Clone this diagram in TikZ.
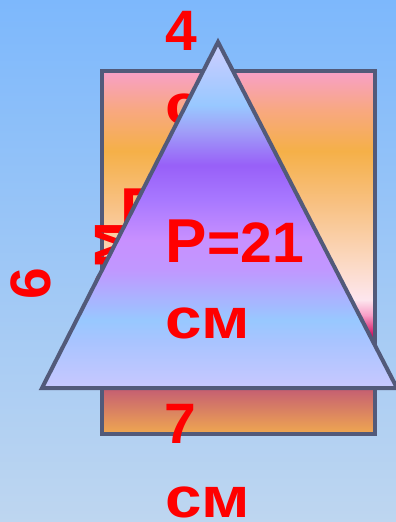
\documentclass[tikz,border=0pt]{standalone}
\usepackage{fontspec}
\usepackage{graphicx}
\setmainfont{Liberation Sans}
\newcommand{\cmunit}{\scalebox{1.15}[1]{см}}
\definecolor{bgtop}{HTML}{7DB8FC}
\definecolor{bgbot}{HTML}{BED6F0}
\definecolor{edge}{HTML}{525A7A}
% rectangle colours, bottom to top
\definecolor{ra}{HTML}{F0A850}
\definecolor{rb}{HTML}{C86470}
\definecolor{rc}{HTML}{B83060}
\definecolor{rd}{HTML}{D01060}
\definecolor{re}{HTML}{F8A0C8}
\definecolor{rf}{HTML}{FDE6EE}
\definecolor{rg}{HTML}{FBD8C0}
\definecolor{rh}{HTML}{F8C080}
\definecolor{ri}{HTML}{F5B048}
\definecolor{rj}{HTML}{F8A880}
\definecolor{rk}{HTML}{F8A0C8}
% triangle colours, bottom to top
\definecolor{ta}{HTML}{C8C8FF}
\definecolor{tb}{HTML}{A8C4FF}
\definecolor{tc}{HTML}{98C8FF}
\definecolor{td}{HTML}{C098FF}
\definecolor{te}{HTML}{C890FF}
\definecolor{tf}{HTML}{A878FF}
\definecolor{tg}{HTML}{9860F8}
\definecolor{th}{HTML}{A0A0F8}
\definecolor{ti}{HTML}{98C8FF}
\definecolor{tj}{HTML}{C0CCFF}
\definecolor{tk}{HTML}{C8D0FF}
\pgfdeclareverticalshading{rectgrad}{100bp}{color(0bp)=(ra); color(25bp)=(ra);
  color(30.8bp)=(rb); color(34bp)=(rc); color(38.6bp)=(rd); color(41.4bp)=(re);
  color(43.5bp)=(rf); color(49bp)=(rg); color(57bp)=(rh); color(64bp)=(ri);
  color(69.6bp)=(rj); color(75bp)=(rk); color(100bp)=(rk)}
\pgfdeclareverticalshading{trigrad}{100bp}{color(0bp)=(ta); color(25bp)=(ta);
  color(31.9bp)=(tb); color(34.8bp)=(tc); color(42bp)=(td); color(46.4bp)=(te);
  color(52.2bp)=(tf); color(57.2bp)=(tg); color(62.3bp)=(th); color(65.9bp)=(ti);
  color(72.4bp)=(tj); color(75bp)=(tk); color(100bp)=(tk)}
\begin{document}
\begin{tikzpicture}[x = 1pt, y = -1pt,
    lbl/.style = {text = red, font = \bfseries\fontsize{57}{68}\selectfont, inner sep = 0pt, anchor = base west},
    edgeline/.style = {draw = edge, line width = 4pt}]
        \shade[top color = bgtop, bottom color = bgbot] (0, 0) rectangle (396, 522);
        \useasboundingbox (0, 0) rectangle (396, 522);
        % rectangle
        \path[edgeline, shade, shading = rectgrad] (102, 71) rectangle (374.5, 434);
        % labels under the triangle
        \foreach \nm/\px/\py/\txt in {four/165/50/4, fourcm/165/124/\cmunit, seven/164/443/7, sevencm/165/517/\cmunit}{
            \node[lbl] (\nm) at (\px, \py) {\txt};
        }
        \node[lbl, rotate = 90] (six) at (50, 300) {6};
        \node[lbl, rotate = 90] (sixcm) at (125, 306) {\cmunit};
        \node[lbl, font = \bfseries\fontsize{62}{68}\selectfont] (hiddenp) at (120.5, 231) {P};
        % triangle
        \path[edgeline, shade, shading = trigrad] (218, 42) -- (397, 388) -- (42, 388) -- cycle;
        \node[lbl] (perim) at (165.5, 262) {{\fontsize{62}{68}\selectfont P}=21};
        \node[lbl] (perimcm) at (165, 338) {\cmunit};
    \end{tikzpicture}
\end{document}
